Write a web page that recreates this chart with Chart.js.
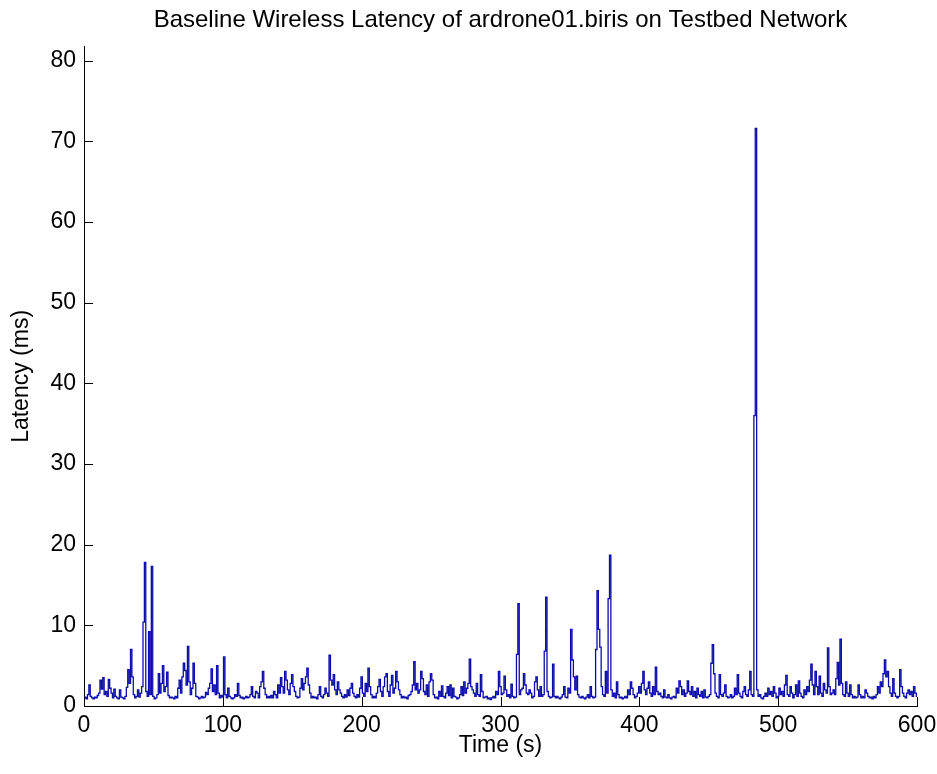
<!DOCTYPE html>
<html>
<head>
<meta charset="utf-8">
<script src="https://cdn.jsdelivr.net/npm/chart.js@4.4.0/dist/chart.umd.min.js"></script>
<style>
    html, body { margin: 0; padding: 0; background: #ffffff; }
    #wrap { width: 937px; height: 774px; }
</style>
</head>
<body>
<div id="wrap"><canvas id="chart"></canvas></div>
<script>
// latency in ms, one sample per second, t = 0 .. 600 s
const latency = [
    1.0, 1.1, 0.9, 1.4, 2.6, 1.2, 1.0, 0.9, 1.1, 1.0, 1.3, 1.6, 3.2, 2.1, 3.5, 1.4, 1.8, 1.2, 3.3, 2.2,
    1.6, 1.0, 2.1, 1.2, 1.0, 0.9, 2.0, 1.1, 1.0, 0.9, 1.2, 2.3, 4.5, 2.8, 7.0, 3.6, 1.4, 1.0, 1.2, 2.0,
    1.1, 1.6, 2.4, 10.4, 17.8, 1.8, 1.2, 9.2, 1.4, 17.3, 1.2, 0.9, 1.0, 1.4, 4.0, 1.6, 2.8, 5.0, 1.8, 2.4,
    4.2, 1.3, 1.0, 1.1, 1.0, 0.9, 1.2, 1.0, 2.2, 3.2, 1.6, 3.6, 5.3, 4.4, 2.6, 7.4, 3.0, 1.4, 2.2, 5.3,
    2.8, 1.2, 1.1, 0.9, 1.0, 1.2, 1.0, 1.1, 1.7, 1.4, 2.2, 2.8, 4.6, 1.8, 2.6, 1.4, 5.0, 1.6, 1.0, 1.3,
    1.1, 6.1, 1.4, 1.0, 2.2, 1.2, 1.0, 0.9, 1.0, 1.4, 1.2, 2.8, 1.3, 1.0, 1.1, 0.9, 1.0, 1.2, 1.0, 1.1,
    1.4, 2.4, 1.2, 1.0, 1.8, 1.6, 1.0, 2.4, 3.0, 4.3, 2.2, 1.4, 1.0, 1.2, 1.0, 1.3, 1.0, 1.8, 1.4, 1.0,
    2.6, 1.6, 3.5, 2.4, 1.6, 4.3, 3.2, 2.0, 1.4, 2.8, 3.9, 2.4, 1.8, 1.2, 1.0, 1.1, 2.2, 3.4, 2.0, 2.8,
    3.6, 4.7, 2.6, 1.6, 1.0, 1.2, 1.0, 1.1, 0.9, 1.4, 2.4, 1.2, 1.0, 1.4, 2.2, 1.6, 1.2, 6.3, 3.2, 2.6,
    3.9, 2.0, 1.4, 3.0, 2.0, 1.6, 1.2, 1.0, 1.4, 1.1, 2.0, 1.3, 2.2, 2.8, 1.6, 1.2, 1.0, 1.4, 1.1, 2.2,
    3.6, 1.6, 1.2, 2.8, 1.8, 4.7, 2.4, 1.4, 1.0, 1.2, 1.0, 1.6, 2.4, 3.3, 1.8, 1.2, 2.4, 3.6, 4.0, 1.8,
    1.2, 2.6, 3.8, 1.6, 2.2, 4.3, 3.0, 2.0, 1.4, 1.0, 1.2, 1.0, 1.1, 0.9, 1.3, 1.4, 1.8, 2.6, 5.5, 2.0,
    2.8, 1.6, 2.0, 4.3, 3.4, 1.8, 1.4, 2.6, 1.2, 3.0, 4.0, 3.2, 1.4, 1.0, 1.1, 0.9, 1.8, 1.2, 2.5, 1.2,
    1.0, 1.6, 2.4, 1.3, 2.6, 1.0, 2.2, 1.2, 1.1, 0.9, 1.0, 1.4, 2.4, 1.3, 3.0, 1.6, 2.2, 2.8, 5.8, 2.4,
    2.0, 1.6, 1.2, 2.8, 1.4, 1.2, 3.9, 1.8, 1.0, 1.1, 1.2, 0.9, 1.0, 0.8, 1.0, 1.2, 1.0, 1.8, 1.4, 4.3,
    2.4, 1.4, 1.6, 3.7, 2.0, 1.2, 1.4, 1.0, 2.7, 1.2, 1.0, 1.1, 6.4, 12.7, 1.4, 2.0, 2.2, 4.0, 2.6, 1.6,
    1.4, 2.0, 1.6, 1.0, 1.2, 3.0, 3.6, 2.0, 1.2, 2.4, 1.2, 1.4, 6.8, 13.5, 1.8, 1.2, 1.0, 1.1, 5.2, 1.2,
    1.0, 1.2, 1.0, 0.9, 1.1, 1.4, 2.4, 1.1, 1.0, 2.2, 1.6, 9.5, 5.7, 3.6, 2.0, 3.7, 1.4, 1.1, 1.0, 1.2,
    1.0, 0.9, 1.1, 1.4, 1.0, 2.4, 1.2, 1.0, 1.1, 7.0, 14.3, 9.5, 7.3, 2.4, 1.4, 1.2, 4.3, 1.6, 13.3, 18.7,
    2.0, 1.2, 1.6, 1.0, 3.0, 1.4, 1.0, 1.1, 0.9, 1.0, 1.2, 1.0, 2.0, 1.4, 3.0, 2.2, 1.4, 1.0, 1.2, 1.6,
    2.4, 1.6, 2.8, 4.3, 2.0, 1.4, 2.2, 3.0, 1.6, 1.2, 2.4, 1.4, 4.8, 1.8, 1.4, 1.6, 1.2, 1.0, 2.0, 1.1,
    1.0, 1.4, 1.0, 0.9, 1.1, 1.2, 1.0, 2.2, 1.6, 3.1, 2.4, 1.4, 2.0, 1.2, 1.6, 3.1, 1.8, 1.4, 2.4, 1.2,
    1.8, 1.0, 2.2, 1.4, 1.2, 1.8, 1.0, 2.0, 1.1, 1.0, 1.2, 1.4, 5.3, 7.6, 4.0, 1.6, 1.2, 1.0, 3.9, 1.4,
    1.2, 1.6, 2.6, 1.2, 1.0, 1.1, 1.4, 1.0, 1.2, 2.2, 1.4, 3.9, 1.6, 1.2, 1.0, 1.8, 2.4, 1.4, 1.2, 2.0,
    4.3, 1.4, 1.2, 36.0, 71.6, 2.0, 1.2, 1.4, 1.0, 0.9, 1.2, 1.6, 1.2, 2.2, 1.4, 1.8, 1.2, 2.4, 1.6, 1.0,
    1.2, 2.2, 1.4, 1.8, 1.2, 2.6, 3.8, 1.4, 1.2, 2.4, 1.6, 1.0, 1.4, 2.6, 1.2, 3.1, 1.6, 1.2, 1.0, 2.0,
    1.4, 2.4, 1.8, 3.2, 5.2, 2.6, 1.4, 4.3, 2.4, 1.4, 3.7, 1.6, 1.2, 2.8, 2.0, 1.6, 7.2, 2.4, 1.4, 1.6,
    2.0, 1.4, 3.4, 5.4, 2.6, 8.3, 2.8, 1.4, 1.2, 3.0, 1.6, 1.2, 2.6, 1.4, 1.0, 1.2, 1.0, 1.1, 2.6, 1.4,
    1.0, 1.2, 1.0, 2.0, 1.6, 1.2, 1.0, 1.1, 0.9, 1.2, 1.0, 1.4, 2.4, 1.6, 3.0, 2.4, 4.0, 5.7, 3.6, 4.3,
    2.4, 1.6, 1.2, 3.4, 1.6, 1.2, 1.0, 1.2, 4.5, 2.4, 1.6, 1.2, 1.0, 1.6, 2.0, 1.4, 1.8, 1.2, 2.4, 1.6,
    1.2
];
const xTicks = [0, 100, 200, 300, 400, 500, 600];
const yTicks = [0, 10, 20, 30, 40, 50, 60, 70, 80];

const TICK_LEN = 9;
const FONT = "Arial, 'Liberation Sans', Helvetica, sans-serif";

// MATLAB style ticks that point into the plot
const inwardTicks = {
    id: 'inwardTicks',
    afterDatasetsDraw(chart) {
        const { ctx, chartArea, scales: { x, y } } = chart;
        ctx.save();
        ctx.strokeStyle = '#000';
        ctx.lineWidth = 1;
        ctx.beginPath();
        x.ticks.forEach(t => {
            const px = Math.round(x.getPixelForValue(t.value)) + 0.5;
            ctx.moveTo(px, chartArea.bottom);
            ctx.lineTo(px, chartArea.bottom - TICK_LEN);
        });
        y.ticks.forEach(t => {
            const py = Math.round(y.getPixelForValue(t.value)) + 0.5;
            ctx.moveTo(chartArea.left, py);
            ctx.lineTo(chartArea.left + TICK_LEN, py);
        });
        ctx.stroke();
        ctx.restore();
    }
};

const points = latency.map((v, i) => ({ x: i, y: v }));

const config = {
    type: 'line',
    data: {
        datasets: [{
            label: 'Latency',
            data: points,
            borderColor: '#0c0caa',
            borderWidth: 1.3,
            pointRadius: 0,
            fill: false,
            stepped: 'middle'
        }]
    },
    options: {
        responsive: true,
        maintainAspectRatio: false,
        animation: false,
        layout: { padding: { left: 0, right: 20, top: 0, bottom: 0 } },
        plugins: {
            legend: { display: false },
            tooltip: { enabled: false },
            title: {
                display: true,
                fullSize: false,
                text: 'Baseline Wireless Latency of ardrone01.biris on Testbed Network',
                color: '#000',
                font: { family: FONT, size: 24, weight: 'normal' },
                padding: { top: 6, bottom: 12 }
            }
        },
        scales: {
            x: {
                type: 'linear',
                min: 0,
                max: 600,
                afterBuildTicks: (scale) => { scale.ticks = xTicks.map(v => ({ value: v })); },
                afterFit: (scale) => {
                    scale.height = 68;
                    scale.paddingLeft = 0;
                    scale.paddingRight = 0;
                },
                ticks: { color: '#000', padding: 6, font: { family: FONT, size: 23 }, maxRotation: 0 },
                grid: { display: true, drawOnChartArea: false, drawTicks: false },
                border: { display: true, color: '#000', width: 1 },
                title: {
                    display: true,
                    text: 'Time (s)',
                    color: '#000',
                    font: { family: FONT, size: 23 },
                    padding: { top: 0, bottom: 15 }
                }
            },
            y: {
                type: 'linear',
                min: 0,
                max: 81.7,
                afterBuildTicks: (scale) => { scale.ticks = yTicks.map(v => ({ value: v })); },
                afterFit: (scale) => { scale.width = 84; },
                ticks: { color: '#000', padding: 8, font: { family: FONT, size: 23 } },
                grid: { display: true, drawOnChartArea: false, drawTicks: false },
                border: { display: true, color: '#000', width: 1 },
                title: {
                    display: true,
                    text: 'Latency (ms)',
                    color: '#000',
                    font: { family: FONT, size: 23 },
                    padding: { top: 8, bottom: 0 }
                }
            }
        }
    },
    plugins: [inwardTicks]
};

const ctx = document.getElementById('chart');
const latencyChart = new Chart(ctx, config);
</script>
</body>
</html>
